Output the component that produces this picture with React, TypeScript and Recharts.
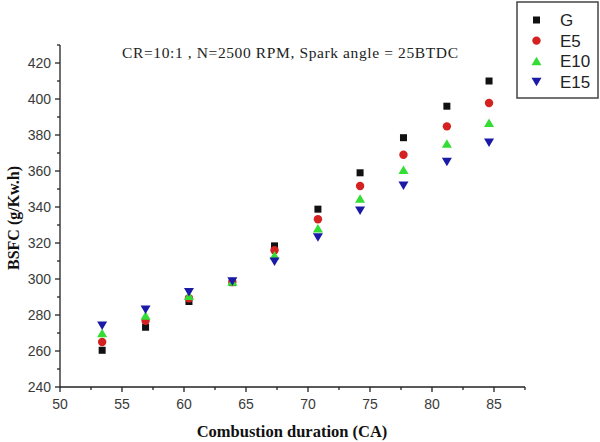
import React from 'react';
import { ScatterChart, Scatter, XAxis, YAxis, Customized } from 'recharts';

const durations = [53.4, 56.9, 60.4, 63.9, 67.3, 70.8, 74.2, 77.7, 81.2, 84.6];
const bsfcG = [260.4, 273.2, 287.5, 298.0, 318.4, 338.8, 359.0, 378.5, 396.0, 410.0];
const bsfcE5 = [265.0, 276.8, 289.3, 298.3, 316.0, 333.2, 351.7, 369.0, 384.8, 397.8];
const bsfcE10 = [269.8, 279.6, 290.6, 298.5, 313.0, 328.1, 344.6, 360.6, 375.2, 386.6];
const bsfcE15 = [274.2, 283.0, 292.8, 298.8, 309.7, 323.2, 338.0, 351.9, 365.2, 375.8];
const xTicks = [50, 52.5, 55, 57.5, 60, 62.5, 65, 67.5, 70, 72.5, 75, 77.5, 80, 82.5, 85, 87.5];
const yTicks = [240, 250, 260, 270, 280, 290, 300, 310, 320, 330, 340, 350, 360, 370, 380, 390, 400, 410, 420, 430];
const seriesNames = ['G', 'E5', 'E10', 'E15'];

const COLORS = { G: '#111111', E5: '#d42222', E10: '#33dd33', E15: '#1a1aa6' };

const toPts = (ys: number[]) => durations.map((x, i) => ({ x, y: ys[i] }));

const Square = ({ cx, cy, fill }: any) => <rect x={cx - 3.5} y={cy - 3.5} width={7} height={7} fill={fill} />;
const Dot = ({ cx, cy, fill }: any) => <circle cx={cx} cy={cy} r={4.2} fill={fill} />;
const Up = ({ cx, cy, fill }: any) => (
  <polygon points={`${cx},${cy - 4.5} ${cx + 5},${cy + 4} ${cx - 5},${cy + 4}`} fill={fill} />
);
const Down = ({ cx, cy, fill }: any) => (
  <polygon points={`${cx},${cy + 4.5} ${cx + 5},${cy - 4} ${cx - 5},${cy - 4}`} fill={fill} />
);
const shapes: any = { G: Square, E5: Dot, E10: Up, E15: Down };

const tickFont = '"Liberation Sans", Arial, sans-serif';
const serif = '"Liberation Serif", "Times New Roman", serif';

const XTick = ({ x, y, payload }: any) => {
  const major = payload.value % 5 === 0;
  return (
    <g>
      <line x1={x} y1={y} x2={x} y2={y + (major ? 5 : 3)} stroke="#222" strokeWidth={1.3} />
      {major && (
        <text x={x} y={y + 22} textAnchor="middle" fontSize={14} fill="#3a3a3a" fontFamily={tickFont}>
          {payload.value}
        </text>
      )}
    </g>
  );
};

const YTick = ({ x, y, payload }: any) => {
  const major = payload.value % 20 === 0;
  return (
    <g>
      <line x1={x} y1={y} x2={x - (major ? 5 : 3)} y2={y} stroke="#222" strokeWidth={1.3} />
      {major && (
        <text x={x - 9} y={y + 5} textAnchor="end" fontSize={14} fill="#3a3a3a" fontFamily={tickFont}>
          {payload.value}
        </text>
      )}
    </g>
  );
};

const Texts = () => (
  <g>
    <text
      x={290}
      y={58}
      textAnchor="middle"
      fontSize={15.5}
      fill="#222"
      fontFamily={serif}
      textLength={336}
      lengthAdjust="spacing"
    >
      CR=10:1 , N=2500 RPM, Spark angle = 25BTDC
    </text>
    <text x={292} y={437} textAnchor="middle" fontSize={16.5} fontWeight="bold" fill="#111" fontFamily={serif}>
      Combustion duration (CA)
    </text>
    <text
      x={0}
      y={0}
      transform="translate(19,218) rotate(-90)"
      textAnchor="middle"
      fontSize={16}
      fontWeight="bold"
      fill="#111"
      fontFamily={serif}
    >
      BSFC (g/Kw.h)
    </text>
    <rect x={517} y={2} width={81} height={96} fill="#fff" stroke="#444" strokeWidth={1.5} />
    {seriesNames.map((n, i) => {
      const S = shapes[n];
      const cy = 20 + i * 20.6;
      return (
        <g key={n}>
          <S cx={536.5} cy={cy} fill={(COLORS as any)[n]} />
          <text x={560} y={cy + 6} fontSize={17} fill="#222" fontFamily={tickFont}>
            {n}
          </text>
        </g>
      );
    })}
  </g>
);

export default function App() {
  const data: any = { G: toPts(bsfcG), E5: toPts(bsfcE5), E10: toPts(bsfcE10), E15: toPts(bsfcE15) };
  return (
    <div style={{ position: 'absolute', left: 0, top: 0, width: 600, height: 442, background: '#fff' }}>
      <ScatterChart width={600} height={442} margin={{ top: 45, right: 75, bottom: 25, left: 10 }}>
        <XAxis
          type="number"
          dataKey="x"
          domain={[50, 87.5]}
          ticks={xTicks}
          interval={0}
          tickSize={0}
          tickMargin={0}
          tickLine={false}
          tick={<XTick />}
          height={30}
          stroke="#222"
          strokeWidth={1.3}
          allowDataOverflow
        />
        <YAxis
          type="number"
          dataKey="y"
          domain={[240, 430]}
          ticks={yTicks}
          interval={0}
          tickSize={0}
          tickMargin={0}
          tickLine={false}
          tick={<YTick />}
          width={50}
          stroke="#222"
          strokeWidth={1.3}
          allowDataOverflow
        />
        {seriesNames.map((n) => (
          <Scatter
            key={n}
            name={n}
            data={data[n]}
            fill={(COLORS as any)[n]}
            shape={shapes[n]}
            isAnimationActive={false}
          />
        ))}
        <Customized component={Texts} />
      </ScatterChart>
    </div>
  );
}
